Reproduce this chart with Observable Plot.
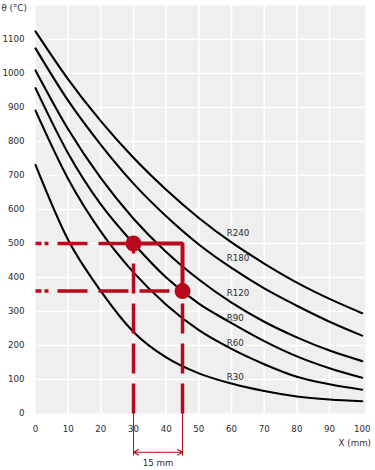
<!DOCTYPE html>
<html><head><meta charset="utf-8">
<script src="https://cdn.jsdelivr.net/npm/d3@7"></script>
<script src="https://cdn.jsdelivr.net/npm/@observablehq/plot@0.6"></script>
<style>html,body{margin:0;padding:0;background:#fff}#chart svg{display:block}</style>
</head><body><div id="chart"></div>
<script>
// distance from exposed face (mm)
const xs = [0, 10, 20, 30, 40, 50, 60, 70, 80, 90, 100];
// temperature (°C) for each fire resistance class
const R240 = [1124, 983, 860, 752, 658, 575, 503, 441, 385, 337, 295];
const R180 = [1074, 920, 790, 676, 580, 497, 428, 368, 317, 270, 229];
const R120 = [1009, 836, 692, 573, 475, 394, 326, 270, 224, 185, 154];
const R90  = [957, 765, 615, 500, 400, 323, 266, 213, 168, 133, 105];
const R60  = [891, 690, 535, 415, 320, 245, 190, 145, 108, 86, 70];
const R30  = [731, 510, 360, 240, 165, 118, 88, 66, 50, 41, 36];
const seriesNames = ["R240", "R180", "R120", "R90", "R60", "R30"];
const seriesValues = [R240, R180, R120, R90, R60, R30];
// curve label anchors (data units)
const labelX = 58.5;
const labelY = [529, 456, 353, 279, 206, 106];
// ticks
const xTicks = [0, 10, 20, 30, 40, 50, 60, 70, 80, 90, 100];
const yTicks = [0, 100, 200, 300, 400, 500, 600, 700, 800, 900, 1000, 1100];
// worked example points (mm, °C)
const pointX = [30, 45];
const pointY = [500, 360];
const spanLabel = "15 mm";
const yTitle = "θ (°C)";
const xTitle = "X (mm)";

const RED = "#b8091d";
const rows = seriesNames.flatMap((name, s) => xs.map((x, i) => ({series: name, x, v: seriesValues[s][i]})));
const pts = pointX.map((x, i) => ({x, y: pointY[i]}));
const connector = [
  {x: pointX[0], y: pointY[0]},
  {x: pointX[1], y: pointY[0]},
  {x: pointX[1], y: pointY[1]}
];
const dimY = -114, extY = -125, spanTextY = -147;
const midX = (pointX[0] + pointX[1]) / 2;

const chart = Plot.plot({
  width: 375,
  height: 470,
  marginLeft: 35,
  marginRight: 10,
  marginTop: 5,
  marginBottom: 57,
  style: {fontFamily: "'DejaVu Sans', sans-serif", fontSize: "8.7px", color: "#2b2b2b", background: "#fff"},
  x: {domain: [0, 101]},
  y: {domain: [0, 1200]},
  marks: [
    Plot.frame({fill: "#efefef", stroke: null}),
    Plot.gridX(xTicks.filter(v => v > 0 && v < 100), {stroke: "#fff", strokeOpacity: 1, strokeWidth: 1.6}),
    Plot.gridY(yTicks.filter(v => v > 0), {stroke: "#fff", strokeOpacity: 1, strokeWidth: 1.6}),
    Plot.axisX(xTicks, {tickSize: 0, tickPadding: 12, label: null, tickFormat: d => String(d)}),
    Plot.axisY(yTicks, {tickSize: 0, tickPadding: 11, label: null, tickFormat: d => String(d)}),
    Plot.line(rows, {x: "x", y: "v", z: "series", stroke: "#000", strokeWidth: 2.1, curve: "monotone-x"}),
    Plot.text(seriesNames, {x: () => labelX, y: (d, i) => labelY[i], text: d => d, textAnchor: "start", fill: "#2b2b2b"}),
    // dashed leaders to the y axis
    Plot.link(pts, {x1: () => 0, y1: "y", x2: "x", y2: "y", stroke: RED, strokeWidth: 3.5,
      strokeDasharray: "6,3,4,9,30,11,30,11,30,11,30,11,30,11,30,11"}),
    // dashed leaders down to the x axis
    Plot.link(pts, {x1: "x", y1: () => 0, x2: "x", y2: "y", stroke: RED, strokeWidth: 3.5, strokeDasharray: "30,10"}),
    // solid connector
    Plot.line(connector, {x: "x", y: "y", stroke: RED, strokeWidth: 4, strokeLinejoin: "miter"}),
    Plot.dot(pts, {x: "x", y: "y", r: 8, fill: RED, stroke: null}),
    // dimension
    Plot.ruleX(pointX, {y1: 0, y2: extY, stroke: RED, strokeWidth: 1}),
    Plot.arrow([0, 1], {x1: () => midX, y1: () => dimY, x2: i => pointX[i], y2: () => dimY, stroke: RED, strokeWidth: 1.2, headLength: 7}),
    Plot.text([spanLabel], {x: () => midX, y: () => spanTextY, text: d => d, fill: "#2b2b2b"}),
    Plot.text([yTitle], {frameAnchor: "top-left", dx: -34, dy: 3, textAnchor: "start", lineAnchor: "middle", text: d => d}),
    Plot.text([xTitle], {frameAnchor: "bottom-right", dx: 5.5, dy: 30, textAnchor: "end", lineAnchor: "middle", text: d => d})
  ]
});
document.getElementById("chart").appendChild(chart);
</script>
</body></html>
